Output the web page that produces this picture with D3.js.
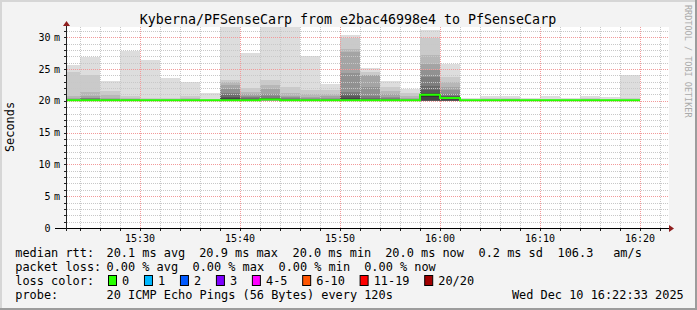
<!DOCTYPE html>
<meta charset="utf-8">
<style>
    body {
        margin: 0;
        background-color: #f3f3f3;
    }

    svg {
        display: block;
        font-family: "DejaVu Sans Mono", monospace;
    }

    .grid-minor {
        stroke: #c8c8c8;
        stroke-dasharray: 1, 1;
        shape-rendering: crispEdges;
    }

    .grid-major {
        stroke: #f29a9a;
        stroke-dasharray: 1, 1;
        shape-rendering: crispEdges;
    }

    .eixo {
        stroke: #222;
        shape-rendering: crispEdges;
    }

    .legenda {
        font-size: 11.9px;
        fill: #000;
    }
</style>
<script src="https://cdn.jsdelivr.net/npm/d3@7/dist/d3.min.js"></script>
<svg width="697" height="310"></svg>
<script>
    // inicio de cada intervalo de 2 minutos (fumaça)
    var barStarts = ["15:22", "15:24", "15:26", "15:28", "15:30", "15:32", "15:34", "15:36", "15:38", "15:40",
        "15:42", "15:44", "15:46", "15:48", "15:50", "15:52", "15:54", "15:56", "15:58", "16:00",
        "16:02", "16:04", "16:06", "16:08", "16:10", "16:12", "16:14", "16:16", "16:18"];

    // mediana (ms) de cada intervalo
    var medianMs = [20.1, 20.1, 20.1, 20.1, 20.1, 20.1, 20.1, 20.1, 20.1, 20.1,
        20.2, 20.1, 20.1, 20.1, 20.1, 20.1, 20.1, 20.1, 20.95, 20.45,
        20.1, 20.1, 20.1, 20.1, 20.1, 20.1, 20.1, 20.1, 20.1];

    // 20 pings ordenados (ms) por intervalo
    var pings = [
        [20.0, 20.0, 20.0, 20.0, 20.0, 20.1, 20.1, 20.1, 20.1, 20.1, 20.1, 20.1, 20.2, 20.2, 20.2, 20.3, 20.5, 20.7, 24.6, 25.6],
        [20.0, 20.0, 20.0, 20.0, 20.0, 20.1, 20.1, 20.1, 20.1, 20.1, 20.1, 20.2, 20.2, 20.3, 20.4, 20.5, 20.8, 21.4, 24.1, 26.9],
        [20.0, 20.0, 20.0, 20.0, 20.0, 20.1, 20.1, 20.1, 20.1, 20.1, 20.1, 20.1, 20.2, 20.2, 20.3, 20.3, 20.5, 20.9, 21.6, 23.1],
        [20.0, 20.0, 20.0, 20.0, 20.0, 20.1, 20.1, 20.1, 20.1, 20.1, 20.1, 20.1, 20.1, 20.2, 20.2, 20.3, 20.3, 20.5, 20.8, 27.9],
        [20.0, 20.0, 20.0, 20.0, 20.0, 20.1, 20.1, 20.1, 20.1, 20.1, 20.1, 20.1, 20.1, 20.1, 20.2, 20.2, 20.2, 20.3, 20.4, 26.4],
        [20.0, 20.0, 20.0, 20.0, 20.0, 20.1, 20.1, 20.1, 20.1, 20.1, 20.1, 20.1, 20.1, 20.1, 20.2, 20.2, 20.2, 20.3, 20.4, 23.6],
        [20.0, 20.0, 20.0, 20.0, 20.0, 20.1, 20.1, 20.1, 20.1, 20.1, 20.1, 20.1, 20.1, 20.2, 20.2, 20.2, 20.3, 20.4, 20.7, 22.9],
        [20.0, 20.0, 20.0, 20.0, 20.0, 20.1, 20.1, 20.1, 20.1, 20.1, 20.1, 20.1, 20.1, 20.1, 20.1, 20.2, 20.2, 20.2, 20.3, 21.2],
        [20.0, 20.0, 20.0, 20.0, 20.0, 20.0, 20.1, 20.1, 20.1, 20.1, 20.2, 20.4, 20.6, 20.9, 21.3, 21.9, 22.5, 23.0, 23.2, 32.5],
        [20.0, 20.0, 20.0, 20.0, 20.0, 20.1, 20.1, 20.1, 20.1, 20.1, 20.1, 20.2, 20.3, 20.4, 20.6, 20.8, 21.0, 21.4, 22.0, 27.5],
        [20.0, 20.0, 20.0, 20.0, 20.1, 20.1, 20.1, 20.1, 20.1, 20.1, 20.2, 20.3, 20.4, 20.5, 20.7, 21.0, 21.8, 22.5, 23.3, 32.5],
        [20.0, 20.0, 20.0, 20.0, 20.0, 20.1, 20.1, 20.1, 20.1, 20.1, 20.1, 20.2, 20.2, 20.3, 20.4, 20.6, 20.8, 21.2, 22.1, 32.5],
        [20.0, 20.0, 20.0, 20.0, 20.0, 20.1, 20.1, 20.1, 20.1, 20.1, 20.1, 20.1, 20.2, 20.2, 20.3, 20.4, 20.6, 21.0, 21.7, 27.0],
        [20.0, 20.0, 20.0, 20.0, 20.0, 20.1, 20.1, 20.1, 20.1, 20.1, 20.1, 20.1, 20.2, 20.2, 20.3, 20.5, 20.7, 21.0, 21.7, 22.7],
        [20.0, 20.0, 20.0, 20.0, 20.0, 20.0, 20.1, 20.1, 20.1, 20.1, 20.2, 20.4, 20.7, 21.0, 21.4, 24.4, 27.7, 28.2, 29.8, 30.4],
        [20.0, 20.0, 20.0, 20.0, 20.0, 20.1, 20.1, 20.1, 20.1, 20.1, 20.1, 20.2, 20.3, 20.5, 20.7, 22.2, 24.0, 24.1, 24.5, 25.2],
        [20.0, 20.0, 20.0, 20.0, 20.0, 20.1, 20.1, 20.1, 20.1, 20.1, 20.1, 20.2, 20.2, 20.3, 20.4, 20.6, 21.0, 21.6, 22.2, 23.1],
        [20.0, 20.0, 20.0, 20.0, 20.0, 20.1, 20.1, 20.1, 20.1, 20.1, 20.1, 20.1, 20.1, 20.2, 20.2, 20.3, 20.5, 20.8, 21.2, 21.9],
        [20.0, 20.0, 20.0, 20.0, 20.0, 20.0, 20.0, 20.0, 20.1, 20.6, 21.1, 21.3, 21.7, 22.4, 23.8, 24.8, 25.8, 27.2, 29.9, 31.1],
        [19.9, 19.9, 19.9, 19.9, 19.9, 19.9, 19.9, 19.9, 20.1, 20.4, 20.5, 20.6, 20.7, 20.8, 21.1, 21.7, 22.2, 23.0, 23.8, 25.8],
        [20.0, 20.0, 20.0, 20.0, 20.0, 20.1, 20.1, 20.1, 20.1, 20.1, 20.1, 20.1, 20.1, 20.1, 20.1, 20.2, 20.2, 20.2, 20.3, 20.4],
        [20.0, 20.0, 20.0, 20.0, 20.0, 20.1, 20.1, 20.1, 20.1, 20.1, 20.1, 20.1, 20.1, 20.1, 20.2, 20.2, 20.2, 20.3, 20.4, 20.8],
        [20.0, 20.0, 20.0, 20.0, 20.0, 20.1, 20.1, 20.1, 20.1, 20.1, 20.1, 20.1, 20.1, 20.2, 20.2, 20.2, 20.3, 20.3, 20.5, 20.8],
        [20.0, 20.0, 20.0, 20.0, 20.0, 20.1, 20.1, 20.1, 20.1, 20.1, 20.1, 20.1, 20.1, 20.1, 20.1, 20.2, 20.2, 20.2, 20.3, 20.4],
        [20.0, 20.0, 20.0, 20.0, 20.0, 20.1, 20.1, 20.1, 20.1, 20.1, 20.1, 20.1, 20.1, 20.1, 20.2, 20.2, 20.2, 20.2, 20.3, 20.8],
        [20.0, 20.0, 20.0, 20.0, 20.0, 20.1, 20.1, 20.1, 20.1, 20.1, 20.1, 20.1, 20.1, 20.1, 20.1, 20.2, 20.2, 20.2, 20.3, 20.4],
        [20.0, 20.0, 20.0, 20.0, 20.0, 20.1, 20.1, 20.1, 20.1, 20.1, 20.1, 20.1, 20.1, 20.1, 20.2, 20.2, 20.2, 20.3, 20.4, 20.7],
        [20.0, 20.0, 20.0, 20.0, 20.0, 20.1, 20.1, 20.1, 20.1, 20.1, 20.1, 20.1, 20.1, 20.1, 20.1, 20.2, 20.2, 20.2, 20.3, 20.6],
        [20.0, 20.0, 20.0, 20.0, 20.0, 20.1, 20.1, 20.1, 20.1, 20.1, 20.1, 20.1, 20.1, 20.1, 20.1, 20.2, 20.2, 20.2, 20.4, 24.1]
    ];

    var yTicks = [0, 5, 10, 15, 20, 25, 30];
    var xTickLabels = ["15:30", "15:40", "15:50", "16:00", "16:10", "16:20"];

    var titulo = "Kyberna/PFSenseCarp from e2bac46998e4 to PfSenseCarp";
    var rttStats = ["20.1 ms avg", "20.9 ms max", "20.0 ms min", "20.0 ms now", "0.2 ms sd", "106.3", "am/s"];
    var lossStats = ["0.00 % avg", "0.00 % max", "0.00 % min", "0.00 % now"];
    var lossLabels = ["0", "1", "2", "3", "4-5", "6-10", "11-19", "20/20"];
    var lossColors = ["#26ff00", "#00b8ff", "#0059ff", "#7e00ff", "#ff00ff", "#ff5500", "#ff0000", "#a10000"];
    var probeText = "20 ICMP Echo Pings (56 Bytes) every 120s";
    var dataHora = "Wed Dec 10 16:22:33 2025";

    var svg = d3.select("svg"),
        width = +svg.attr("width"),
        height = +svg.attr("height");

    var parseT = d3.timeParse("%H:%M:%S");
    var parseM = d3.timeParse("%H:%M");

    var pLeft = 67, pRight = 669, pTop = 27, pBottom = 228;

    var x = d3.scaleTime()
        .domain([parseT("15:22:42"), parseT("16:22:54")])
        .range([pLeft, pRight]);

    var y = d3.scaleLinear()
        .domain([0, 31.6])
        .range([pBottom, pTop]);

    // fundo e moldura
    svg.append("rect").attr("width", width).attr("height", height).attr("fill", "#f3f3f3");
    svg.append("rect").attr("x", 0).attr("y", 0).attr("width", width).attr("height", 2).attr("fill", "#d6d6d6");
    svg.append("rect").attr("x", 0).attr("y", 0).attr("width", 2).attr("height", height).attr("fill", "#d6d6d6");
    svg.append("rect").attr("x", 0).attr("y", height - 2).attr("width", width).attr("height", 2).attr("fill", "#9c9c9c");
    svg.append("rect").attr("x", width - 2).attr("y", 0).attr("width", 2).attr("height", height).attr("fill", "#9c9c9c");

    svg.append("rect")
        .attr("x", pLeft).attr("y", pTop)
        .attr("width", pRight - pLeft).attr("height", pBottom - pTop)
        .attr("fill", "#fff");

    svg.append("clipPath").attr("id", "area")
        .append("rect")
        .attr("x", pLeft).attr("y", pTop)
        .attr("width", pRight - pLeft).attr("height", pBottom - pTop);

    // fumaça: camada i vai do ping i ao ping 20-i+1
    var smoke = svg.append("g").attr("clip-path", "url(#area)");
    var bars = barStarts.map(function (s, i) {
        var t = parseM(s);
        return { t0: t, t1: d3.timeMinute.offset(t, 2), p: pings[i], med: medianMs[i] };
    });

    bars.forEach(function (b) {
        var x0 = x(b.t0), x1 = x(b.t1);
        for (var l = 0; l < 10; l++) {
            var c = Math.floor(190 / 10 * (10 - (l + 1))) + 50;
            var yTop = y(b.p[19 - l]), yBot = y(b.p[l]);
            smoke.append("rect")
                .attr("x", x0)
                .attr("width", x1 - x0)
                .attr("y", yTop)
                .attr("height", Math.max(0, yBot - yTop))
                .attr("fill", d3.rgb(c, c, c))
                .attr("shape-rendering", "crispEdges");
        }
    });

    // grade
    var grid = svg.append("g");
    var minorX = d3.timeMinute.every(2).range(x.domain()[0], x.domain()[1])
        .filter(function (d) { return d.getMinutes() % 10 != 0; });
    var majorX = d3.timeMinute.every(10).range(x.domain()[0], x.domain()[1]);
    var minorY = d3.range(1, 32).filter(function (v) { return v % 5 != 0; });
    var majorY = yTicks.slice(1);

    grid.selectAll(".gmx").data(minorX).enter().append("line")
        .attr("class", "grid-minor")
        .attr("x1", function (d) { return Math.round(x(d)) + 0.5; })
        .attr("x2", function (d) { return Math.round(x(d)) + 0.5; })
        .attr("y1", pTop).attr("y2", pBottom);

    grid.selectAll(".gmy").data(minorY).enter().append("line")
        .attr("class", "grid-minor")
        .attr("x1", pLeft).attr("x2", pRight)
        .attr("y1", function (d) { return Math.round(y(d)) + 0.5; })
        .attr("y2", function (d) { return Math.round(y(d)) + 0.5; });

    grid.selectAll(".gMx").data(majorX).enter().append("line")
        .attr("class", "grid-major")
        .attr("x1", function (d) { return Math.round(x(d)) + 0.5; })
        .attr("x2", function (d) { return Math.round(x(d)) + 0.5; })
        .attr("y1", pTop).attr("y2", pBottom);

    grid.selectAll(".gMy").data(majorY).enter().append("line")
        .attr("class", "grid-major")
        .attr("x1", pLeft).attr("x2", pRight)
        .attr("y1", function (d) { return Math.round(y(d)) + 0.5; })
        .attr("y2", function (d) { return Math.round(y(d)) + 0.5; });

    // mediana
    var medPts = bars.map(function (b) { return [x(b.t0), y(b.med)]; });
    var last = bars[bars.length - 1];
    medPts.push([x(last.t1), y(last.med)]);
    svg.append("path")
        .attr("clip-path", "url(#area)")
        .attr("d", d3.line().curve(d3.curveStepAfter)(medPts))
        .attr("fill", "none")
        .attr("stroke", lossColors[0])
        .attr("stroke-width", 2);

    // eixos e marcas
    var eixos = svg.append("g");
    eixos.selectAll(".tx").data(minorX.concat(majorX)).enter().append("line")
        .attr("class", "eixo")
        .attr("x1", function (d) { return Math.round(x(d)) + 0.5; })
        .attr("x2", function (d) { return Math.round(x(d)) + 0.5; })
        .attr("y1", pBottom).attr("y2", pBottom + 3);
    eixos.selectAll(".ty").data(minorY.concat(majorY)).enter().append("line")
        .attr("class", "eixo")
        .attr("x1", pLeft - 3).attr("x2", pLeft)
        .attr("y1", function (d) { return Math.round(y(d)) + 0.5; })
        .attr("y2", function (d) { return Math.round(y(d)) + 0.5; });

    eixos.append("line").attr("class", "eixo")
        .attr("x1", 55).attr("x2", pRight + 1)
        .attr("y1", pBottom + 0.5).attr("y2", pBottom + 0.5)
        .style("stroke", "#000");
    eixos.append("line").attr("class", "eixo")
        .attr("x1", pLeft - 0.5).attr("x2", pLeft - 0.5)
        .attr("y1", pBottom + 3).attr("y2", pTop - 3);
    eixos.append("path")
        .attr("d", "M" + pRight + "," + (pBottom - 3) + "L" + (pRight + 5) + "," + (pBottom + 0.5) + "L" + pRight + "," + (pBottom + 4) + "Z")
        .attr("fill", "#8f1f1f");
    eixos.append("path")
        .attr("d", "M" + (pLeft - 4) + "," + (pTop - 1) + "L" + (pLeft - 0.5) + "," + (pTop - 6) + "L" + (pLeft + 3) + "," + (pTop - 1) + "Z")
        .attr("fill", "#8f1f1f");

    // rotulos do eixo y
    var yLab = svg.append("g").style("font-size", "10px");
    yLab.selectAll(".yn").data(yTicks).enter().append("text")
        .attr("x", 50.5).attr("y", function (d) { return y(d) + 3.7; })
        .attr("text-anchor", "end")
        .text(function (d) { return d; });
    yLab.selectAll(".ym").data(yTicks.slice(1)).enter().append("text")
        .attr("x", 54).attr("y", function (d) { return y(d) + 3.7; })
        .text("m");

    // rotulos do eixo x
    svg.append("g").style("font-size", "10px")
        .selectAll("text").data(xTickLabels).enter().append("text")
        .attr("x", function (d) { return x(parseM(d)); })
        .attr("y", 241.5)
        .attr("text-anchor", "middle")
        .text(function (d) { return d; });

    // titulo e textos laterais
    svg.append("text")
        .attr("x", 348).attr("y", 24)
        .attr("text-anchor", "middle")
        .style("font-size", "13.3px")
        .text(titulo);

    svg.append("text")
        .attr("transform", "translate(14,127) rotate(-90)")
        .attr("text-anchor", "middle")
        .attr("class", "legenda")
        .text("Seconds");

    svg.append("text")
        .attr("transform", "translate(684.5,5) rotate(90)")
        .style("font-size", "8.5px")
        .attr("fill", "#aaa")
        .text("RRDTOOL / TOBI OETIKER");

    // legenda
    var leg = svg.append("g").attr("class", "legenda");
    var rttX = [107.3, 200, 293.3, 386, 479.3, 558.3, 614];
    var lossX = [107.3, 193.3, 279.3, 365];

    leg.append("text").attr("x", 15.3).attr("y", 257).text("median rtt:");
    rttStats.forEach(function (s, i) {
        leg.append("text").attr("x", rttX[i] - 0.8).attr("y", 257).text(s);
    });
    leg.append("text").attr("x", 15.3).attr("y", 271).text("packet loss:");
    lossStats.forEach(function (s, i) {
        leg.append("text").attr("x", lossX[i] - 0.8).attr("y", 271).text(s);
    });
    leg.append("text").attr("x", 15.3).attr("y", 285).text("loss color:");
    var cur = 108.5;
    lossLabels.forEach(function (s, i) {
        leg.append("rect")
            .attr("x", cur).attr("y", 275.5)
            .attr("width", 8).attr("height", 10)
            .attr("fill", lossColors[i])
            .attr("stroke", "#000").attr("stroke-width", 1);
        var t = leg.append("text").attr("x", cur + 13.6).attr("y", 285).text(s);
        cur = cur + 13.6 + t.node().getComputedTextLength() + 15.2;
    });
    leg.append("text").attr("x", 15.3).attr("y", 299).text("probe:");
    leg.append("text").attr("x", 106.5).attr("y", 299).text(probeText);
    leg.append("text").attr("x", 511.9).attr("y", 299).text(dataHora);
</script>
